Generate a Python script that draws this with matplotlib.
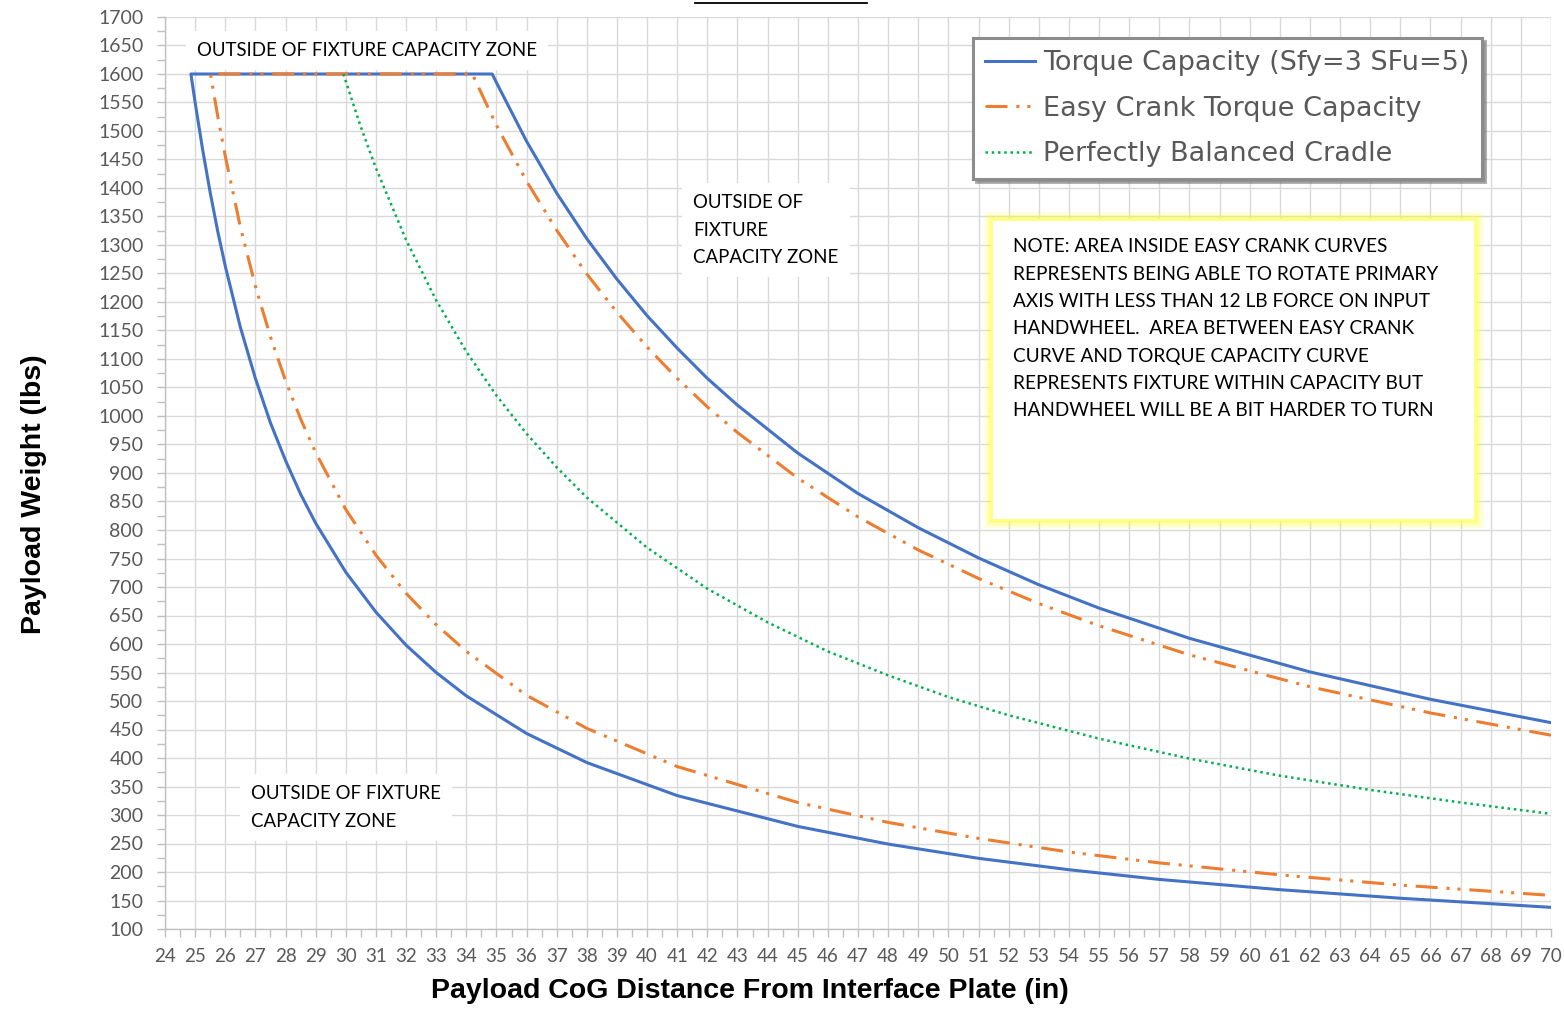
import matplotlib

matplotlib.use("Agg")
import matplotlib.pyplot as plt
from matplotlib.lines import Line2D
from matplotlib.patches import Rectangle
from matplotlib.ticker import MultipleLocator

# Torque capacity curve (Sfy=3 SFu=5): upper branch and lower branch
blue_up_x = [34.86, 35, 36, 37, 38, 39, 40, 41, 42, 43, 45, 47, 49, 51, 53, 55, 58, 62, 66, 70]
blue_up_y = [1600, 1585, 1482, 1391, 1311, 1240, 1176, 1119, 1066, 1019, 935, 864, 804, 751, 704,
             663, 610, 551, 503, 462]
blue_low_x = [24.86, 25.0, 25.25, 25.5, 25.75, 26.0, 26.5, 27.0, 27.5, 28.0, 28.5, 29.0, 30.0, 31.0,
              32.0, 33.0, 34.0, 36.0, 38.0, 41.0, 45.0, 48.0, 51.0, 54.0, 57.0, 61.0, 65.0, 70.0]
blue_low_y = [1600, 1550, 1467, 1392, 1324, 1263, 1156, 1066, 988, 922, 863, 812, 726, 656, 598, 550,
              509, 443, 392, 334, 280, 249, 224, 204, 187, 169, 154, 138]

# Easy crank torque capacity
orange_up_x = [34.2, 35, 36, 37, 38, 39, 40, 41, 42, 43, 45, 47, 49, 51, 53, 55, 58, 62, 66, 70]
orange_up_y = [1600, 1510, 1412, 1326, 1249, 1182, 1121, 1066, 1016, 971, 891, 823, 765, 715, 671,
               632, 581, 525, 479, 440]
orange_low_x = [25.51, 25.75, 26, 26.5, 27, 27.5, 28, 28.5, 29, 30, 31, 32, 33, 34, 36, 38, 41, 45,
                48, 51, 54, 57, 61, 65, 70]
orange_low_y = [1600, 1526, 1456, 1332, 1228, 1139, 1062, 995, 936, 836, 756, 689, 634, 587, 510,
                452, 385, 322, 287, 259, 235, 216, 195, 177, 159]

# Perfectly balanced cradle
green_x = [29.92, 30.5, 31, 32, 33, 34, 35, 36, 37, 38, 40, 42, 44, 46, 48, 50, 52, 55, 58, 61, 64,
           67, 70]
green_y = [1600, 1507, 1435, 1309, 1203, 1113, 1036, 969, 910, 857, 769, 697, 638, 587, 545, 507,
           475, 434, 399, 369, 344, 322, 302]

x_ticks = list(range(24, 71))
y_ticks = list(range(100, 1701, 50))

labels = ["Torque Capacity (Sfy=3 SFu=5)", "Easy Crank Torque Capacity", "Perfectly Balanced Cradle"]
note = ("NOTE: AREA INSIDE EASY CRANK CURVES\n"
        "REPRESENTS BEING ABLE TO ROTATE PRIMARY\n"
        "AXIS WITH LESS THAN 12 LB FORCE ON INPUT\n"
        "HANDWHEEL.  AREA BETWEEN EASY CRANK\n"
        "CURVE AND TORQUE CAPACITY CURVE\n"
        "REPRESENTS FIXTURE WITHIN CAPACITY BUT\n"
        "HANDWHEEL WILL BE A BIT HARDER TO TURN")

BLUE = "#4472C4"
ORANGE = "#ED7D31"
GREEN = "#00B050"
TICK_GRAY = "#595959"
TEXT_FONT = ["Lato", "DejaVu Sans"]

fig = plt.figure(figsize=(15.64, 10.09), dpi=100)
ax = fig.add_axes([165 / 1564, 1 - 929 / 1009, 1386 / 1564, 912 / 1009])

# each capacity series runs down the upper branch, along the 1600 cap, then down the lower branch
ax.plot(blue_up_x[::-1] + blue_low_x, blue_up_y[::-1] + blue_low_y, color=BLUE, lw=2.2,
        label=labels[0], zorder=3)
ax.plot(orange_up_x[::-1] + orange_low_x, orange_up_y[::-1] + orange_low_y, color=ORANGE, lw=2.2,
        ls=(0, (7.2, 2.9, 1.0, 2.6, 1.0, 2.9)), label=labels[1], zorder=4)
ax.plot(green_x, green_y, color=GREEN, lw=1.8, ls=(0, (1.0, 1.5)), label=labels[2], zorder=5)

ax.set_xlim(24, 70)
ax.set_ylim(100, 1700)
ax.set_xticks(x_ticks)
ax.set_yticks(y_ticks)
ax.xaxis.set_minor_locator(MultipleLocator(0.5))
ax.yaxis.set_minor_locator(MultipleLocator(25))
ax.grid(True, which="major", color="#d9d9d9", lw=1.0)
ax.set_axisbelow(True)
for side in ("top", "right"):
    ax.spines[side].set_visible(False)
for side in ("left", "bottom"):
    ax.spines[side].set_color("#bfbfbf")
    ax.spines[side].set_linewidth(1.0)
ax.tick_params(which="both", direction="out", length=5.5, width=1.0, color="#bfbfbf")
ax.tick_params(axis="y", which="major", pad=10, labelsize=14, labelcolor=TICK_GRAY)
ax.tick_params(axis="x", which="major", pad=8, labelsize=13.5, labelcolor=TICK_GRAY)
for lab in ax.get_xticklabels() + ax.get_yticklabels():
    lab.set_family(TEXT_FONT)

ax.set_xlabel("Payload CoG Distance From Interface Plate (in)", fontsize=20.5, fontweight="bold",
              family="Liberation Sans")
ax.set_ylabel("Payload Weight (lbs)", fontsize=20.5, fontweight="bold", family="Liberation Sans")
ax.xaxis.set_label_coords(0.422, -0.054)
ax.yaxis.set_label_coords(-0.085, 0.477)

leg = ax.legend(loc="upper left", bbox_to_anchor=(0.583, 0.977), borderaxespad=0, fontsize=19.5,
                handlelength=1.85, handletextpad=0.3, labelspacing=0.72, borderpad=0.45,
                fancybox=False, framealpha=1, edgecolor="#8c8c8c",
                shadow={"color": "#7f7f7f", "alpha": 0.6})
leg.get_frame().set_linewidth(2.2)
for t in leg.get_texts():
    t.set_color(TICK_GRAY)

# zone labels on white boxes
box = dict(facecolor="white", edgecolor="none", boxstyle="square,pad=0.6")
ax.text(0.0231, 0.9636, "OUTSIDE OF FIXTURE CAPACITY ZONE", transform=ax.transAxes, fontsize=13.4,
        family=TEXT_FONT, va="center", ha="left", bbox=box, zorder=6)
ax.text(0.381, 0.7664, "OUTSIDE OF\nFIXTURE\nCAPACITY ZONE", transform=ax.transAxes, fontsize=13.4,
        family=TEXT_FONT, va="center", ha="left", linespacing=1.72, bbox=box, zorder=6)
ax.text(0.0620, 0.1332, "OUTSIDE OF FIXTURE\nCAPACITY ZONE", transform=ax.transAxes, fontsize=13.4,
        family=TEXT_FONT, va="center", ha="left", linespacing=1.72, bbox=box, zorder=6)

# note box with yellow glow
nx0, ny0, nw, nh = 0.597, 0.4485, 0.348, 0.3285
for lw, alpha in ((12, 0.15), (8, 0.25), (4, 0.5)):
    ax.add_patch(Rectangle((nx0, ny0), nw, nh, transform=ax.transAxes, facecolor="none",
                           edgecolor="#ffff40", lw=lw, alpha=alpha, zorder=6))
ax.add_patch(Rectangle((nx0, ny0), nw, nh, transform=ax.transAxes, facecolor="white",
                       edgecolor="#ffff8c", lw=1.5, zorder=6))
ax.text(0.6115, 0.7575, note, transform=ax.transAxes, fontsize=13.7, family=TEXT_FONT, va="top",
        ha="left", linespacing=1.74, zorder=7)

# stray title underline at the very top
fig.add_artist(Line2D([695 / 1564, 867 / 1564], [1 - 3 / 1009, 1 - 3 / 1009], color="black", lw=1.3,
                      transform=fig.transFigure))

fig.savefig("out.png", dpi=100)
